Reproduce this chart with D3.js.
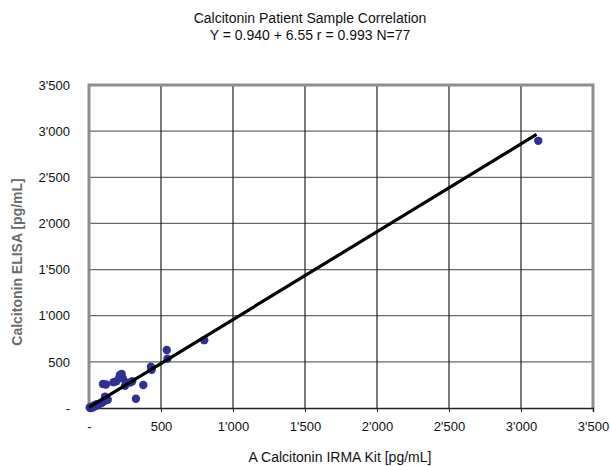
<!DOCTYPE html>
<html><head><meta charset="utf-8">
<script src="https://cdn.jsdelivr.net/npm/d3@7"></script>
<style>body{margin:0;background:#fff}svg{display:block;font-family:"Liberation Sans",Arial,sans-serif}</style>
</head><body><svg id="c" width="610" height="466"></svg>
<script>
const titleLines = ["Calcitonin Patient Sample Correlation", "Y = 0.940 + 6.55 r = 0.993 N=77"];
const xLabel = "A Calcitonin IRMA Kit [pg/mL]";
const yLabel = "Calcitonin ELISA [pg/mL]";
const tickValues = [0, 500, 1000, 1500, 2000, 2500, 3000, 3500];
const tickLabels = ["-", "500", "1'000", "1'500", "2'000", "2'500", "3'000", "3'500"];
const sampleX = [5,10,15,20,25,30,35,40,45,50,55,60,70,80,85,90,100,110,120,130,123,
  118,170,190,211,220,227,235,250,262,285,300,326,377,430,435,540,545,800,3120,97,215,111];
const sampleY = [5,0,10,15,5,20,25,30,20,35,40,30,45,50,55,60,70,80,100,90,101,
  255,280,290,330,350,368,320,240,275,275,290,100,250,448,415,628,535,735,2895,260,357,122];
const fitSlope = 0.952, fitIntercept = 6.55, fitXRange = [0, 3108];

const svg = d3.select("#c");
const L = 89, R = 593, T = 85, B = 408;
const x = d3.scaleLinear().domain([0, 3500]).range([L, R]);
const y = d3.scaleLinear().domain([0, 3500]).range([B, T]);

// title
svg.append("g").selectAll("text").data(titleLines).join("text")
  .attr("x", 310).attr("y", (d, i) => 23 + i * 17).attr("text-anchor", "middle")
  .attr("font-size", 14).attr("fill", "#111").text(d => d);

// horizontal grid
svg.append("g").selectAll("line").data(tickValues.slice(1, -1)).join("line")
  .attr("x1", L).attr("x2", R).attr("y1", d => y(d)).attr("y2", d => y(d))
  .attr("stroke", "#6a6a6a").attr("stroke-width", 1.3);
// vertical grid
svg.append("g").selectAll("line").data(tickValues.slice(1, -1)).join("line")
  .attr("y1", T).attr("y2", B).attr("x1", d => x(d)).attr("x2", d => x(d))
  .attr("stroke", "#222").attr("stroke-width", 1.2);

// frame
svg.append("path").attr("d", `M${L},${B}V${T}H${R}V${B}`).attr("fill", "none")
  .attr("stroke", "#8a8e96").attr("stroke-width", 3);

// bottom axis
const xAxis = d3.axisBottom(x).tickValues(tickValues).tickFormat((d, i) => tickLabels[i]).tickSize(4).tickPadding(10);
const gx = svg.append("g").attr("transform", `translate(0,${B})`).call(xAxis);
gx.select(".domain").attr("stroke", "#222").attr("stroke-width", 1.5);
gx.selectAll(".tick line").attr("stroke", "#222");
gx.selectAll("text").attr("font-size", 13).attr("fill", "#111").attr("font-family", "Liberation Sans, Arial, sans-serif");

// left axis labels
const yAxis = d3.axisLeft(y).tickValues(tickValues).tickFormat((d, i) => tickLabels[i]).tickSize(0).tickPadding(19);
const gy = svg.append("g").attr("transform", `translate(${L},0)`).call(yAxis);
gy.select(".domain").remove();
gy.selectAll("text").attr("font-size", 13).attr("fill", "#111").attr("font-family", "Liberation Sans, Arial, sans-serif");

// points
svg.append("g").selectAll("circle").data(sampleX.map((v, i) => [v, sampleY[i]])).join("circle")
  .attr("cx", d => x(d[0])).attr("cy", d => y(d[1])).attr("r", 4.2).attr("fill", "#2e3192");

// fit line
svg.append("line")
  .attr("x1", x(fitXRange[0])).attr("y1", y(fitIntercept + fitSlope * fitXRange[0]))
  .attr("x2", x(fitXRange[1])).attr("y2", y(fitIntercept + fitSlope * fitXRange[1]))
  .attr("stroke", "#000").attr("stroke-width", 3.2);

// axis labels
svg.append("text").attr("x", 340).attr("y", 462).attr("text-anchor", "middle")
  .attr("font-size", 14).attr("fill", "#111").text(xLabel);
svg.append("text").attr("transform", "translate(22,262) rotate(-90)").attr("text-anchor", "middle")
  .attr("font-size", 14).attr("font-weight", "bold").attr("fill", "#6b6b6b").text(yLabel);
</script></body></html>
